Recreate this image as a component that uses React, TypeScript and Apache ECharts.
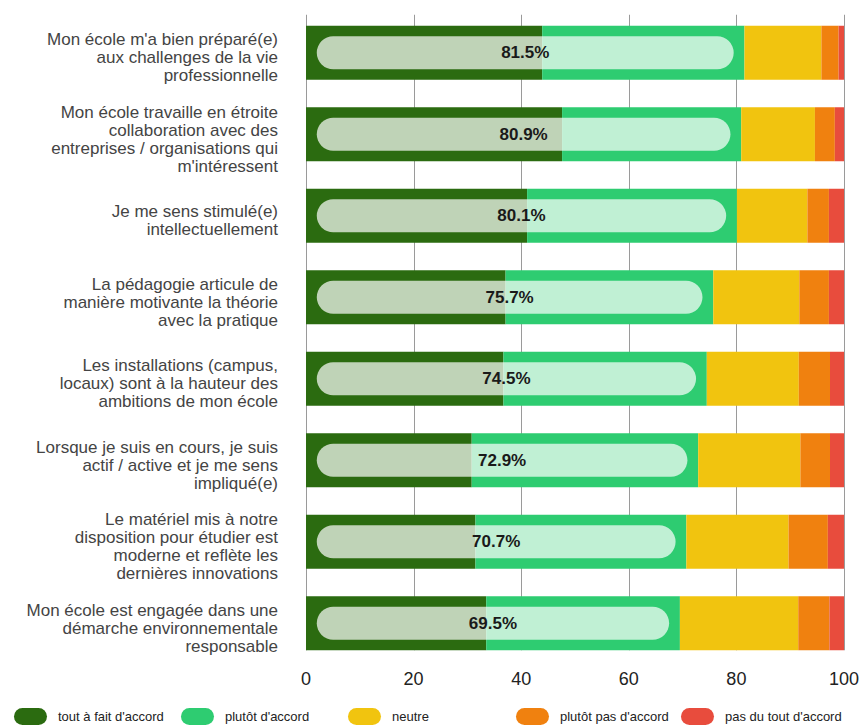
import React, { useEffect, useRef } from "react";
import * as echarts from "echarts";

const categories = [
  "Mon école m'a bien préparé(e)\naux challenges de la vie\nprofessionnelle",
  "Mon école travaille en étroite\ncollaboration avec des\nentreprises / organisations qui\nm'intéressent",
  "Je me sens stimulé(e)\nintellectuellement",
  "La pédagogie articule de\nmanière motivante la théorie\navec la pratique",
  "Les installations (campus,\nlocaux) sont à la hauteur des\nambitions de mon école",
  "Lorsque je suis en cours, je suis\nactif / active et je me sens\nimpliqué(e)",
  "Le matériel mis à notre\ndisposition pour étudier est\nmoderne et reflète les\ndernières innovations",
  "Mon école est engagée dans une\ndémarche environnementale\nresponsable",
];

const toutAFait = [43.9, 47.6, 41.1, 37.1, 36.7, 30.8, 31.5, 33.5];
const plutot = [37.6, 33.3, 39.0, 38.6, 37.8, 42.1, 39.2, 36.0];
const neutre = [14.3, 13.7, 13.1, 16.0, 17.1, 19.0, 19.0, 22.0];
const plutotPas = [3.2, 3.7, 4.0, 5.5, 5.8, 5.5, 7.3, 5.8];
const pasDuTout = [1.0, 1.7, 2.8, 2.8, 2.6, 2.6, 3.0, 2.7];
const accord = [81.5, 80.9, 80.1, 75.7, 74.5, 72.9, 70.7, 69.5];

const xTicks = [0, 20, 40, 60, 80, 100];

const seriesNames = [
  "tout à fait d'accord",
  "plutôt d'accord",
  "neutre",
  "plutôt pas d'accord",
  "pas du tout d'accord",
];
const seriesData = [toutAFait, plutot, neutre, plutotPas, pasDuTout];
const colors = ["#2b6b10", "#2ecc71", "#f1c40f", "#f0810f", "#e84c3d"];
const legendLeft = [14, 181, 348, 516, 681];

const FONT = "'Liberation Sans', Arial, Helvetica, sans-serif";
const PILL_PAD = 2;
const BAR_W = 54;
const capsule =
  "path://M8.5,0 L24.5,0 A8.5,8.5 0 0 1 24.5,17 L8.5,17 A8.5,8.5 0 0 1 8.5,0 Z";

export default function App() {
  const ref = useRef<HTMLDivElement>(null);

  useEffect(() => {
    if (!ref.current) return;
    const chart = echarts.init(ref.current, null, { renderer: "svg" });

    const barSeries = seriesNames.map((name, i) => ({
      name,
      type: "bar",
      stack: "total",
      yAxisIndex: 0,
      barWidth: BAR_W,
      z: 2,
      itemStyle: { color: colors[i] },
      emphasis: { disabled: true },
      data: seriesData[i],
    }));

    const option: any = {
      animation: false,
      textStyle: { fontFamily: FONT },
      grid: { left: 306, right: 14, top: 12, bottom: 62, containLabel: false },
      legend: seriesNames.map((name, i) => ({
        data: [{ name, icon: capsule }],
        left: legendLeft[i],
        top: 708,
        itemWidth: 33,
        itemHeight: 17,
        itemGap: 0,
        padding: 0,
        selectedMode: false,
        textStyle: {
          fontFamily: FONT,
          fontSize: 13,
          color: "#222",
          padding: [0, 0, 0, 6],
        },
      })),
      xAxis: {
        type: "value",
        min: 0,
        max: 100,
        interval: 20,
        axisLine: { show: false },
        axisTick: { show: false },
        splitLine: { show: false },
        axisLabel: { fontFamily: FONT, fontSize: 18, color: "#222", margin: 6 },
      },
      yAxis: [
        {
          type: "category",
          inverse: true,
          data: categories,
          axisLine: { show: false },
          axisTick: { show: false },
          axisLabel: {
            fontFamily: FONT,
            fontSize: 17,
            lineHeight: 18,
            color: "#444",
            align: "right",
            margin: 28,
            formatter: (v: string) =>
              "{s|}\n" +
              v
                .split("\n")
                .map((line) => "{t|" + line + "}")
                .join("\n"),
            rich: {
              s: { height: 10, lineHeight: 10, fontSize: 1 },
              t: {
                fontFamily: FONT,
                fontSize: 17,
                lineHeight: 18,
                color: "#444",
                align: "right",
              },
            },
          },
        },
        {
          type: "category",
          inverse: true,
          data: categories,
          show: false,
        },
      ],
      series: [
        {
          type: "custom",
          name: "grid",
          silent: true,
          z: 1,
          clip: false,
          yAxisIndex: 0,
          data: xTicks.map((v) => [v, 0]),
          encode: { x: 0, y: 1 },
          renderItem: (params: any, api: any) => {
            const xv = api.value(0);
            const top = api.coord([xv, 0]);
            const bottom = api.coord([xv, categories.length - 1]);
            const x = Math.round(top[0]) + 0.5;
            return {
              type: "line",
              shape: {
                x1: x,
                y1: top[1] - BAR_W / 2 - 11,
                x2: x,
                y2: bottom[1] + BAR_W / 2,
              },
              style: { stroke: "#9a9a9a", lineWidth: 1 },
            };
          },
        },
        ...barSeries,
        {
          type: "bar",
          name: "pillBase",
          stack: "pill",
          yAxisIndex: 1,
          barWidth: 33,
          z: 3,
          silent: true,
          itemStyle: { color: "rgba(0,0,0,0)" },
          data: accord.map(() => PILL_PAD),
        },
        {
          type: "bar",
          name: "pill",
          stack: "pill",
          yAxisIndex: 1,
          barWidth: 33,
          z: 3,
          silent: true,
          itemStyle: { color: "rgba(255,255,255,0.7)", borderRadius: 16.5 },
          label: {
            show: true,
            position: "inside",
            fontFamily: FONT,
            fontSize: 17,
            fontWeight: "bold",
            color: "#1a1a1a",
            formatter: (p: any) => accord[p.dataIndex].toFixed(1) + "%",
          },
          data: accord.map((v) => v - 2 * PILL_PAD),
        },
      ],
    };

    chart.setOption(option);
    return () => chart.dispose();
  }, []);

  return (
    <div
      ref={ref}
      style={{ position: "absolute", left: 0, top: 0, width: 862, height: 726 }}
    />
  );
}
